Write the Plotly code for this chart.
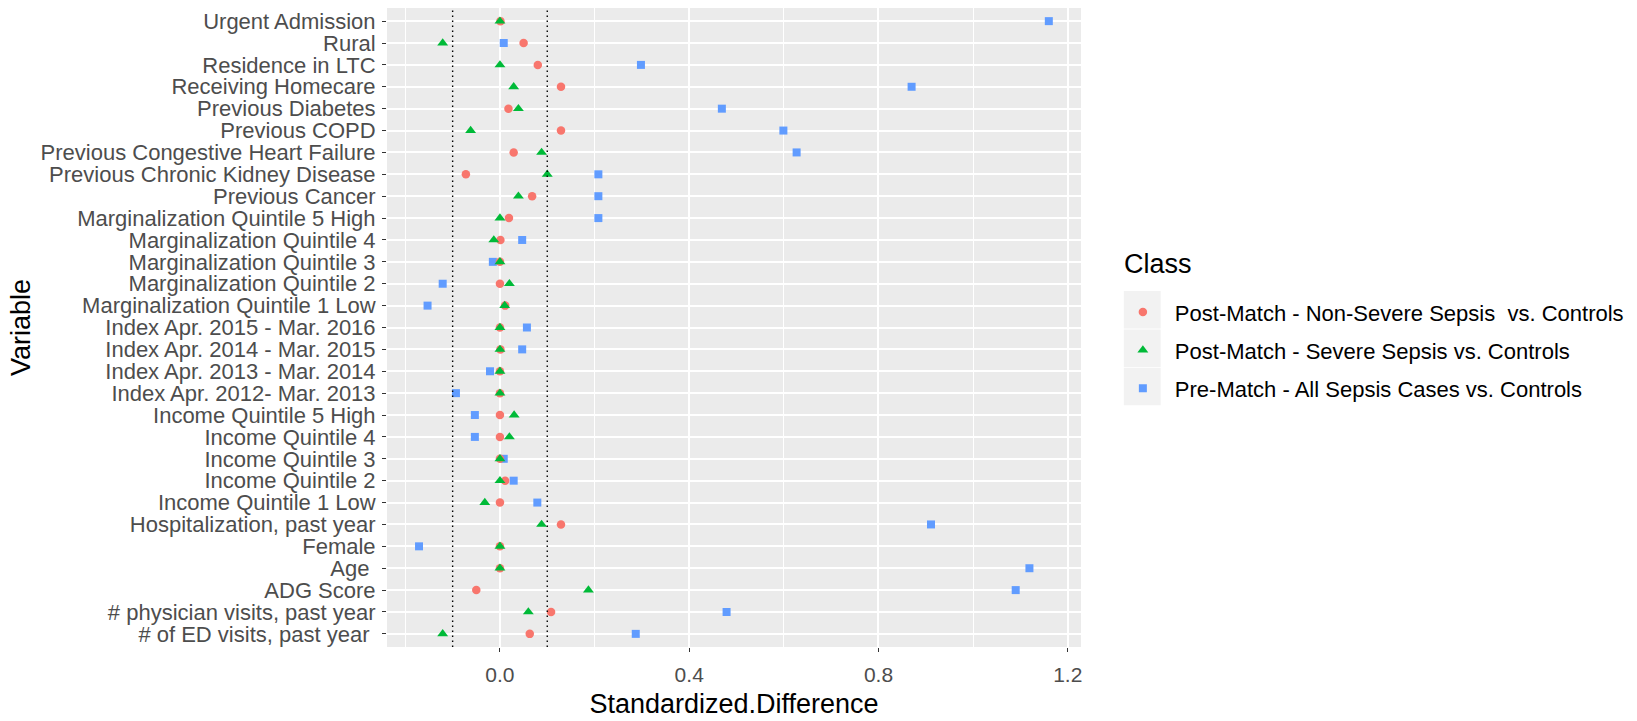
import plotly.graph_objects as go

# Covariates, listed top to bottom as they appear on the axis
variables = [
    "Urgent Admission", "Rural", "Residence in LTC", "Receiving Homecare",
    "Previous Diabetes", "Previous COPD", "Previous Congestive Heart Failure",
    "Previous Chronic Kidney Disease", "Previous Cancer",
    "Marginalization Quintile 5 High", "Marginalization Quintile 4",
    "Marginalization Quintile 3", "Marginalization Quintile 2",
    "Marginalization Quintile 1 Low", "Index Apr. 2015 - Mar. 2016",
    "Index Apr. 2014 - Mar. 2015", "Index Apr. 2013 - Mar. 2014",
    "Index Apr. 2012- Mar. 2013", "Income Quintile 5 High", "Income Quintile 4",
    "Income Quintile 3", "Income Quintile 2", "Income Quintile 1 Low",
    "Hospitalization, past year", "Female", "Age ", "ADG Score",
    "# physician visits, past year", "# of ED visits, past year ",
]

# Standardized differences per class (same order as `variables`)
non_severe_post = [
    0.001, 0.050, 0.080, 0.129, 0.018, 0.129, 0.029, -0.072, 0.068, 0.019,
    0.001, 0.000, 0.000, 0.011, 0.000, 0.001, 0.000, 0.000, 0.000, 0.000,
    0.000, 0.011, 0.000, 0.129, 0.000, 0.000, -0.050, 0.108, 0.063,
]
severe_post = [
    0.000, -0.121, 0.000, 0.029, 0.039, -0.062, 0.088, 0.100, 0.039, 0.000,
    -0.013, 0.000, 0.020, 0.010, 0.000, 0.000, 0.000, 0.000, 0.030, 0.020,
    0.000, 0.000, -0.032, 0.088, 0.000, 0.000, 0.187, 0.060, -0.121,
]
all_pre = [
    1.160, 0.008, 0.298, 0.870, 0.469, 0.599, 0.627, 0.208, 0.208, 0.208,
    0.047, -0.015, -0.121, -0.153, 0.057, 0.047, -0.021, -0.093, -0.053, -0.053,
    0.008, 0.029, 0.079, 0.911, -0.171, 1.119, 1.090, 0.479, 0.287,
]

class_names = [
    "Post-Match - Non-Severe Sepsis  vs. Controls",
    "Post-Match - Severe Sepsis vs. Controls",
    "Pre-Match - All Sepsis Cases vs. Controls",
]
x_ticks = [0.0, 0.4, 0.8, 1.2]
x_minor = [-0.2, 0.2, 0.6, 1.0]
threshold = [-0.1, 0.1]

FONT = "Arial, 'Liberation Sans', Arimo, sans-serif"

fig = go.Figure()

# squares underneath, then circles, then triangles on top
series = [
    (all_pre, class_names[2], "#619CFF", "square", 8, 3),
    (non_severe_post, class_names[0], "#F8766D", "circle", 8.5, 1),
    (severe_post, class_names[1], "#00BA38", "triangle-up", 9.5, 2),
]
for vals, name, color, symbol, size, rank in series:
    fig.add_trace(go.Scatter(
        x=vals, y=variables, mode="markers", name=name,
        legendgroup=name, legendrank=rank,
        marker=dict(color=color, symbol=symbol, size=size, line=dict(width=0)),
    ))

# +/-0.1 balance thresholds
for t in threshold:
    fig.add_shape(type="line", xref="x", yref="paper", x0=t, x1=t, y0=0, y1=1,
                  line=dict(color="black", width=1.4, dash="1.4px,3.6px"),
                  layer="above")

# grey legend key backgrounds
key_left, key_right = (1127 - 387) / 697, (1164 - 387) / 697
for top in [292, 330.5, 369]:
    fig.add_shape(type="rect", xref="paper", yref="paper",
                  x0=key_left, x1=key_right,
                  y0=(649 - (top + 37.5)) / 641, y1=(649 - top) / 641,
                  fillcolor="#F2F2F2", line=dict(width=0), layer="below")

# legend heading
fig.add_annotation(text="Class", xref="paper", yref="paper",
                   x=(1125 - 387) / 697, y=(649 - 265) / 641,
                   xanchor="left", yanchor="middle", showarrow=False,
                   font=dict(size=27, color="black"))

fig.update_layout(
    width=1637, height=721,
    margin=dict(l=387, r=553, t=8, b=72),
    paper_bgcolor="white", plot_bgcolor="#EBEBEB",
    font=dict(family=FONT, size=22, color="black"),
    showlegend=True,
    legend=dict(
        font=dict(size=22, color="black"),
        x=(1114 - 387) / 697, xanchor="left",
        y=(649 - 292) / 641, yanchor="top",
        bgcolor="rgba(0,0,0,0)", traceorder="grouped", tracegroupgap=6.6,
        itemwidth=54,
    ),
    xaxis=dict(
        range=[-0.2387, 1.228], tickvals=x_ticks,
        ticktext=[f"{v:.1f}" for v in x_ticks],
        showgrid=True, gridcolor="white", gridwidth=1.8,
        minor=dict(tickvals=x_minor, showgrid=True, gridcolor="white",
                   gridwidth=0.9, ticks=""),
        ticks="outside", ticklen=4, tickwidth=1.2, tickcolor="#333333",
        tickfont=dict(size=21, color="#4D4D4D"), ticklabelstandoff=5,
        zeroline=False, showline=False,
        title=dict(text="Standardized.Difference",
                   font=dict(size=27, color="black"), standoff=8),
    ),
    yaxis=dict(
        type="category", categoryorder="array", categoryarray=variables,
        tickmode="array", tickvals=variables, ticktext=variables,
        range=[len(variables) - 0.4, -0.6],
        showgrid=True, gridcolor="white", gridwidth=1.8,
        ticks="outside", ticklen=4, tickwidth=1.2, tickcolor="#333333",
        tickfont=dict(size=22, color="#4D4D4D"), ticklabelstandoff=2,
        zeroline=False, showline=False,
        title=dict(text="Variable", font=dict(size=27, color="black"),
                   standoff=2),
    ),
)

fig.write_html("out.html")
